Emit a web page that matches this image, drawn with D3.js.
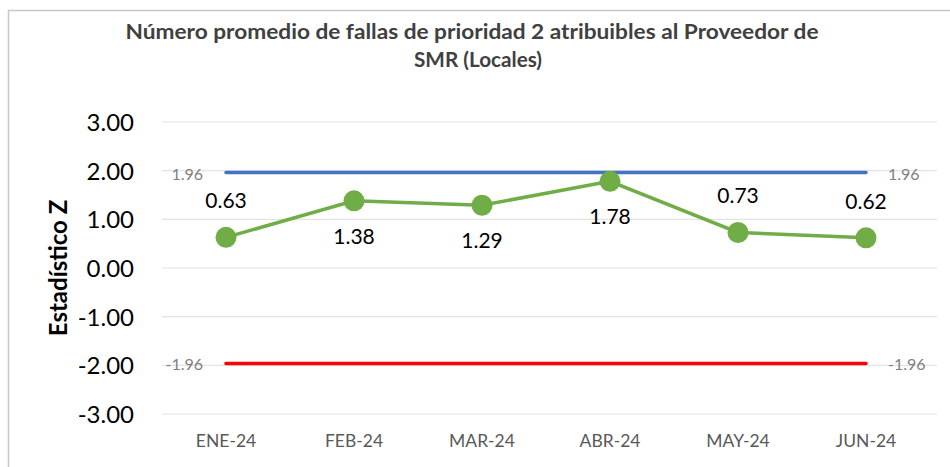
<!DOCTYPE html>
<html>
<head>
<meta charset="utf-8">
<script src="https://d3js.org/d3.v7.min.js"></script>
<style>
  body { margin:0; background:#fff; }
  text { font-family: "Lato", "Open Sans", sans-serif; }
</style>
</head>
<body>
<div id="my_dataviz"></div>
<script>
// datos
var months = ["ENE-24","FEB-24","MAR-24","ABR-24","MAY-24","JUN-24"];
var zValues = [0.63, 1.38, 1.29, 1.78, 0.73, 0.62];
var upperLimit = [1.96, 1.96, 1.96, 1.96, 1.96, 1.96];
var lowerLimit = [-1.96, -1.96, -1.96, -1.96, -1.96, -1.96];
var yTicks = [3, 2, 1, 0, -1, -2, -3];
// donde va la etiqueta: arriba o abajo del punto
var labelPos = ["above","below","below","below","above","above"];

var W = 950, H = 467;

var svg = d3.select("#my_dataviz").append("svg")
  .attr("width", W).attr("height", H);

// borde del area del grafico
svg.append("rect")
  .attr("x", 8.5).attr("y", 10.5)
  .attr("width", 960).attr("height", 500)
  .attr("fill", "none").attr("stroke", "#c8c8c8").attr("stroke-width", 1.5);

var x = d3.scaleBand().domain(months).range([162, 930]);
var y = d3.scaleLinear().domain([-3, 3]).range([414, 122]);
var cx = function(d, i) { return x(months[i]) + x.bandwidth()/2; };
var fmt = function(d) { return d3.format(".2f")(d).replace("\u2212", "-"); };

// titulo
var title = svg.append("text")
  .attr("text-anchor","middle")
  .attr("font-weight","bold").attr("font-size",21).attr("fill","#404040");
title.append("tspan").attr("x",472).attr("y",39)
  .attr("textLength",693).attr("lengthAdjust","spacingAndGlyphs")
  .text("Número promedio de fallas de prioridad 2 atribuibles al Proveedor de");
title.append("tspan").attr("x",478).attr("y",67)
  .attr("textLength",128).attr("lengthAdjust","spacingAndGlyphs")
  .text("SMR (Locales)");

// grilla
svg.append("g").selectAll("line").data(yTicks).enter().append("line")
  .attr("x1",162).attr("x2",937)
  .attr("y1",function(d){return y(d);}).attr("y2",function(d){return y(d);})
  .attr("stroke","#e3e3e3").attr("stroke-width",1.2);

// eje y
var yAxis = svg.append("g").attr("transform","translate(137,0)")
  .call(d3.axisLeft(y).tickValues(yTicks).tickSize(0).tickFormat(fmt));
yAxis.select(".domain").remove();
yAxis.selectAll("text").attr("font-size",24).attr("fill","#000")
  .attr("font-family","Lato, 'Open Sans', sans-serif").attr("dy","0.36em");

svg.append("text")
  .attr("transform","translate(67,268) rotate(-90)")
  .attr("text-anchor","middle").attr("font-weight","bold").attr("font-size",24)
  .attr("fill","#000").text("Estadístico Z");

// eje x
var xAxis = svg.append("g").attr("transform","translate(0,429)")
  .call(d3.axisBottom(x).tickSize(0));
xAxis.select(".domain").remove();
xAxis.selectAll("text").attr("font-size",17.5).attr("fill","#595959")
  .attr("font-family","Lato, 'Open Sans', sans-serif").attr("dy","0.85em");

// limites
var line = d3.line().x(cx).y(function(d){return y(d);});
svg.append("path").datum(upperLimit).attr("d",line)
  .attr("fill","none").attr("stroke","#4472C4").attr("stroke-width",3.5).attr("stroke-linecap","round");
svg.append("path").datum(lowerLimit).attr("d",line)
  .attr("fill","none").attr("stroke","#FF0000").attr("stroke-width",3.5).attr("stroke-linecap","round");

// etiquetas de los limites
[upperLimit, lowerLimit].forEach(function(s){
  var n = s.length - 1;
  svg.append("text").attr("x", cx(s[0],0) - 23).attr("y", y(s[0]) + 7)
    .attr("text-anchor","end").attr("font-size",16).attr("fill","#808080").text(s[0].toFixed(2));
  svg.append("text").attr("x", cx(s[n],n) + 22).attr("y", y(s[n]) + 7)
    .attr("text-anchor","start").attr("font-size",16).attr("fill","#808080").text(s[n].toFixed(2));
});

// serie Z
svg.append("path").datum(zValues).attr("d",line)
  .attr("fill","none").attr("stroke","#70AD47").attr("stroke-width",3.5);
svg.append("g").selectAll("circle").data(zValues).enter().append("circle")
  .attr("cx",cx).attr("cy",function(d){return y(d);}).attr("r",10.5)
  .attr("fill","#70AD47");

svg.append("g").selectAll("text").data(zValues).enter().append("text")
  .attr("x",cx)
  .attr("y",function(d,i){ return labelPos[i]=="above" ? y(d)-29 : y(d)+43; })
  .attr("text-anchor","middle").attr("font-size",21).attr("fill","#000")
  .text(function(d){return d.toFixed(2);});
</script>
</body>
</html>
